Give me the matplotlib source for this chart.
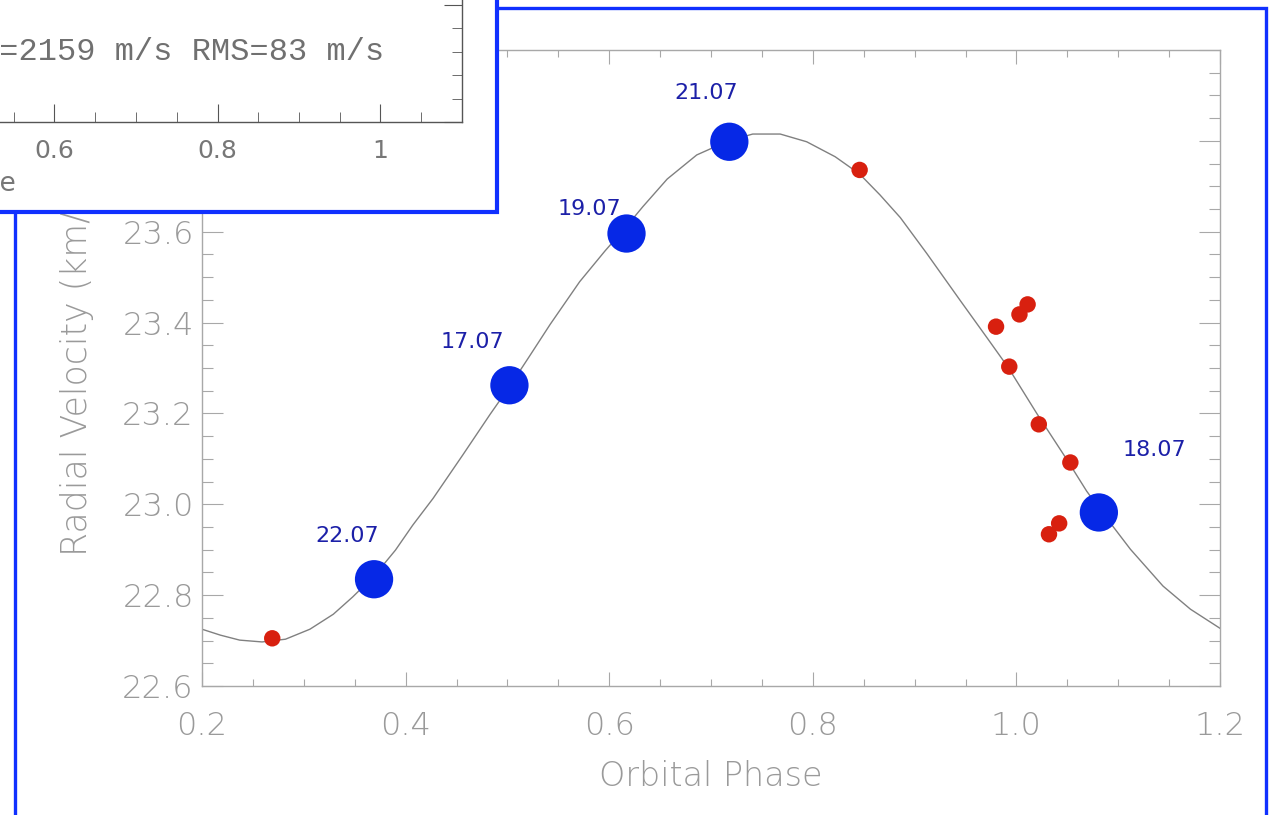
import numpy as np
import matplotlib
matplotlib.use("Agg")
import matplotlib.pyplot as plt
from matplotlib.patches import Rectangle
from matplotlib.ticker import MultipleLocator

# fitted orbit
curve_phase = [0.200, 0.218, 0.237, 0.259, 0.282, 0.306, 0.329, 0.348, 0.369, 0.390,
               0.407, 0.427, 0.456, 0.483, 0.503, 0.522, 0.542, 0.571, 0.596, 0.616,
               0.633, 0.657, 0.686, 0.717, 0.741, 0.768, 0.794, 0.822, 0.846, 0.866,
               0.886, 0.912, 0.945, 0.971, 0.992, 1.020, 1.050, 1.069, 1.082, 1.112,
               1.144, 1.171, 1.200]
curve_rv = [22.725, 22.712, 22.701, 22.697, 22.703, 22.725, 22.758, 22.796, 22.842, 22.899,
            22.954, 23.013, 23.108, 23.198, 23.262, 23.327, 23.396, 23.490, 23.558, 23.609,
            23.655, 23.716, 23.769, 23.800, 23.815, 23.815, 23.798, 23.765, 23.727, 23.681,
            23.631, 23.552, 23.448, 23.367, 23.301, 23.200, 23.097, 23.029, 22.989, 22.901,
            22.820, 22.769, 22.727]

# new observations (blue, labelled by date)
new_phase = [0.369, 0.502, 0.617, 0.718, 1.081]
new_rv = [22.835, 23.262, 23.596, 23.798, 22.982]
new_dates = ["22.07", "17.07", "19.07", "21.07", "18.07"]

# older measurements (red)
old_phase = [0.269, 0.846, 0.980, 1.003, 1.011, 0.993, 1.022, 1.053, 1.032, 1.042]
old_rv = [22.705, 23.736, 23.391, 23.418, 23.440, 23.303, 23.176, 23.092, 22.934, 22.958]

# where each date label sits relative to its point (points)
label_offsets = [(-19, 31), (-27, 31), (-27, 18), (-17, 35), (40, 45)]

W, H = 1272, 815
fig = plt.figure(figsize=(W / 100, H / 100), dpi=100)
fig.patch.set_facecolor("white")

def px(x0, y0, x1, y1):
    # image pixel box -> figure fraction [left, bottom, width, height]
    return [x0 / W, 1 - y1 / H, (x1 - x0) / W, (y1 - y0) / H]

axcol = "#a8a8a8"
txtcol = "#9a9a9a"
font = ["DejaVu Sans"]

ax = fig.add_axes(px(202, 50, 1220, 686))
ax.plot(curve_phase, curve_rv, color="#808080", lw=1.0, zorder=2)
ax.scatter(old_phase, old_rv, s=140, color="#d8200f", edgecolor="none", zorder=3)
ax.scatter(new_phase, new_rv, s=760, color="#0628e6", edgecolor="none", zorder=4)
for xp, yp, lab, off in zip(new_phase, new_rv, new_dates, label_offsets):
    ax.annotate(lab, xy=(xp, yp), xytext=off, textcoords="offset points",
                ha="center", va="center", fontsize=16, color="#1c20a8", family=font)

ax.set_xlim(0.2, 1.2)
ax.set_ylim(22.6, 24.0)
ax.xaxis.set_minor_locator(MultipleLocator(0.05))
ax.yaxis.set_minor_locator(MultipleLocator(0.05))
ax.set_xticks(np.arange(0.2, 1.21, 0.2))
ax.set_xticklabels(["0.2", "0.4", "0.6", "0.8", "1.0", "1.2"])
ax.set_yticks(np.arange(22.6, 24.01, 0.2))
# 23.8 and 24.0 sit behind the inset panel
ax.set_yticklabels(["22.6", "22.8", "23.0", "23.2", "23.4", "23.6", "", ""])
for s in ax.spines.values():
    s.set_color(axcol)
    s.set_linewidth(1.0)
ax.tick_params(axis="x", which="both", direction="in", top=True, bottom=True,
               colors=axcol, labelcolor=txtcol, labelsize=23, pad=18)
ax.tick_params(axis="x", which="major", length=10, width=0.8)
ax.tick_params(axis="x", which="minor", length=5, width=0.8)
ax.tick_params(axis="y", which="both", direction="in", left=True, right=True,
               colors=axcol, labelcolor=txtcol, labelsize=23, pad=6)
ax.tick_params(axis="y", which="major", length=15, width=0.8)
ax.tick_params(axis="y", which="minor", length=8, width=0.8)
for t in ax.get_xticklabels() + ax.get_yticklabels():
    t.set_family(font)
    t.set_fontweight("light")
ax.set_xlabel("Orbital Phase", fontsize=24, color=txtcol, family=font,
              fontweight="light", labelpad=14)
ax.set_ylabel("Radial Velocity (km/s)", fontsize=25, color=txtcol, family=font,
              fontweight="light", labelpad=20)

# outer blue frame of the slide
fig.add_artist(Rectangle((15 / W, -0.05), 1251 / W, 1.05 - 8 / H, transform=fig.transFigure,
                         fill=False, edgecolor="#1030ff", lw=2.4, zorder=3))
# inset panel with its own blue frame
fig.add_artist(Rectangle((-0.02, 1 - 212 / H), (497 + 25) / W, 0.5, transform=fig.transFigure,
                         facecolor="white", edgecolor="#1030ff", lw=3.0, zorder=5))

ins = fig.add_axes(px(462 - 1059.5, -100, 462, 122), zorder=6)
ins.patch.set_alpha(0)
ins.set_xlim(-0.2, 1.1)
ins.set_ylim(0, 222 / 117)
ins.xaxis.set_minor_locator(MultipleLocator(0.05))
ins.yaxis.set_major_locator(MultipleLocator(1))
ins.yaxis.set_minor_locator(MultipleLocator(0.2))
ins.set_xticks([0.0, 0.2, 0.4, 0.6, 0.8, 1.0])
ins.set_xticklabels(["0", "0.2", "0.4", "0.6", "0.8", "1"])
ins.set_yticklabels([])
for s in ins.spines.values():
    s.set_color("#555555")
    s.set_linewidth(1.0)
ins.tick_params(which="both", direction="in", top=False, right=True, left=False,
                colors="#555555", labelcolor="#777777", labelsize=18, pad=12)
ins.tick_params(which="major", length=13)
ins.tick_params(which="minor", length=7)
ins.set_xlabel("Orbital Phase", fontsize=19, color="#777777")
ins.xaxis.set_label_coords(0.495, -0.221)
ins.text(-19.5 / W, 1 - 52 / H, "K=2159 m/s RMS=83 m/s", transform=fig.transFigure,
         ha="left", va="center", fontsize=23, color="#707070", family=["Liberation Mono"])

fig.savefig("out.png", dpi=100)
